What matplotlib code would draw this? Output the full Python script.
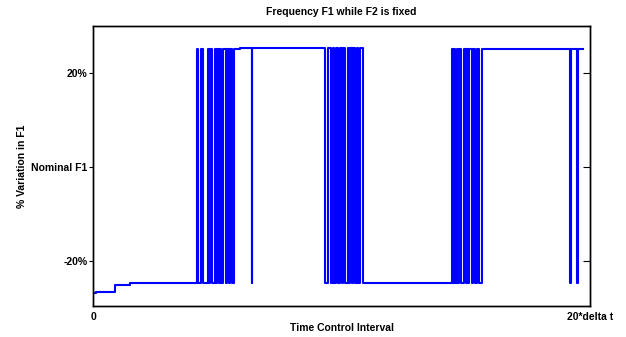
import numpy as np
import matplotlib
matplotlib.use('Agg')
import matplotlib.pyplot as plt

plt.rcParams['font.family'] = ['Liberation Sans', 'DejaVu Sans']

# --- data (time in units of delta t, value in % variation of F1) ---
low_times = [0.0, 0.12, 0.885, 1.49, 9.0]
low_levels = [-27.0, -26.7, -25.2, -24.7, -24.9]
high_times = [0.0, 5.9, 7.8, 12.0, 17.5]
high_levels = [25.2, 25.4, 25.3, 25.0, 25.1]

cluster1 = [4.165, 4.237, 4.338, 4.414, 4.628, 4.668, 4.708, 4.801, 4.909,
            4.950, 4.990, 5.050, 5.090, 5.151, 5.211, 5.352, 5.392, 5.473,
            5.513, 5.581, 5.666, 6.378, 6.406]
cluster2 = [9.336, 9.456, 9.577, 9.646, 9.710, 9.778, 9.871, 9.939, 10.00,
            10.06, 10.14, 10.249, 10.30, 10.36, 10.41, 10.475, 10.543,
            10.611, 10.676, 10.744, 10.877]
cluster3 = [14.434, 14.486, 14.527, 14.567, 14.635, 14.688, 14.748, 14.808,
            14.929, 15.01, 15.05, 15.10, 15.14, 15.24, 15.30, 15.37, 15.44,
            15.545, 15.64]
end_pulses = [19.21, 19.24, 19.48, 19.50]
t_end = 19.72

ytick_vals = [-20, 0, 20]
ytick_labels = ['-20%', 'Nominal F1', '20%']
xtick_vals = [0, 20]
xtick_labels = ['0', '20*delta t']

# --- build step signal ---
toggles = np.array(sorted(cluster1 + cluster2 + cluster3 + end_pulses))
breaks = sorted(set(list(toggles) + low_times + high_times))
breaks = [b for b in breaks if b < t_end]


def level_at(t):
    n = np.searchsorted(toggles, t, side='right')
    if n % 2 == 1:
        idx = np.searchsorted(high_times, t, side='right') - 1
        return high_levels[idx]
    idx = np.searchsorted(low_times, t, side='right') - 1
    return low_levels[idx]


ts = list(breaks) + [t_end]
vs = [level_at(t) for t in breaks]
vs.append(vs[-1])

fig = plt.figure(figsize=(6.26, 3.37), dpi=100)
ax = fig.add_axes([0.1486, 0.092, 0.7939, 0.8308])
ax.plot(ts, vs, drawstyle='steps-post', color='#0000ff', linewidth=1.5)

ax.set_xlim(0, 20)
ax.set_ylim(-29.7, 30.0)
ax.set_yticks(ytick_vals)
ax.set_yticklabels(ytick_labels, fontsize=7.5, fontweight='bold')
ax.set_xticks(xtick_vals)
ax.set_xticklabels(xtick_labels, fontsize=7.5, fontweight='bold')
ax.tick_params(axis='x', length=0, pad=4)
ax.tick_params(axis='y', direction='out', length=3, width=0.8, pad=1)
for s in ax.spines.values():
    s.set_linewidth(1.0)

# inward ticks on the right side
ax2 = ax.twinx()
ax2.set_ylim(ax.get_ylim())
ax2.set_yticks(ytick_vals)
ax2.set_yticklabels([])
ax2.tick_params(axis='y', direction='in', length=5, width=0.8)
for s in ax2.spines.values():
    s.set_linewidth(1.0)

ax.set_title('Frequency F1 while F2 is fixed', fontsize=7.5,
             fontweight='bold', pad=8)
ax.set_xlabel('Time Control Interval', fontsize=7.5, fontweight='bold',
              labelpad=1)
ax.set_ylabel('% Variation in F1', fontsize=7.5, fontweight='bold',
              labelpad=3)

fig.savefig('out.png', dpi=100)
